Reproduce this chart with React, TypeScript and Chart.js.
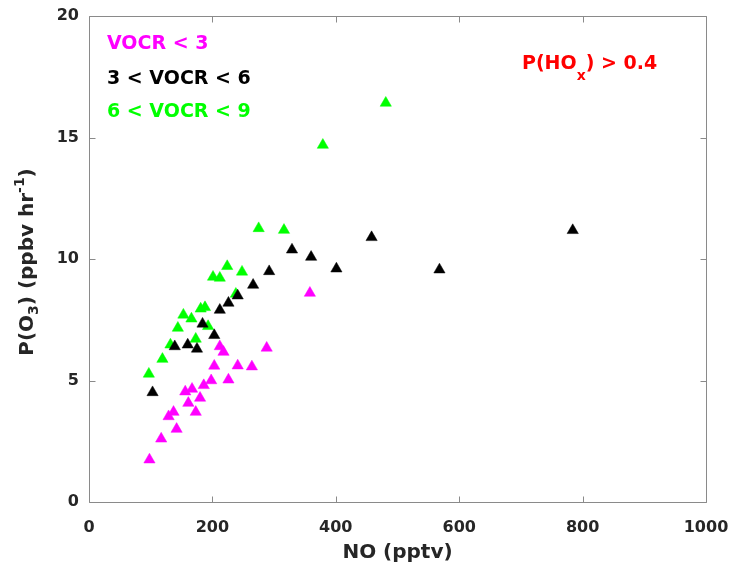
import React, { useEffect, useRef } from 'react';
import { Chart, registerables } from 'chart.js';

Chart.register(...registerables);

// VOCR < 3 (magenta)
const noLow = [98, 117, 142, 129, 137, 173, 161, 180, 156, 167, 186, 198, 226, 203, 241, 264, 212, 218, 288, 358];
const po3Low = [1.74, 2.6, 3.0, 3.52, 3.7, 3.7, 4.07, 4.28, 4.54, 4.65, 4.8, 5.0, 5.03, 5.6, 5.61, 5.57, 6.4, 6.17, 6.34, 8.6];

// 3 < VOCR < 6 (black)
const noMid = [103, 139, 160, 175, 203, 184, 212, 226, 241, 266, 292, 329, 360, 401, 458, 568, 784];
const po3Mid = [4.51, 6.4, 6.47, 6.3, 6.86, 7.33, 7.9, 8.19, 8.49, 8.93, 9.49, 10.38, 10.08, 9.6, 10.89, 9.56, 11.18];

// 6 < VOCR < 9 (green)
const noHigh = [97, 119, 132, 173, 144, 153, 166, 181, 188, 193, 238, 201, 212, 224, 248, 275, 316, 379, 481];
const po3High = [5.27, 5.88, 6.47, 6.71, 7.16, 7.7, 7.54, 7.95, 8.01, 7.23, 8.56, 9.26, 9.22, 9.7, 9.47, 11.26, 11.19, 14.69, 16.42];

const xTicks = [0, 200, 400, 600, 800, 1000];
const yTicks = [0, 5, 10, 15, 20];

const seriesLabels = ['VOCR < 3', '3 < VOCR < 6', '6 < VOCR < 9'];
const seriesColors = ['#ff00ff', '#000000', '#00ff00'];

const FONT = 'DejaVu Sans';
const TEXT_DARK = '#262626';

type Part = { t: string; size: number; dy: number };

function drawRich(ctx: CanvasRenderingContext2D, parts: Part[], x: number, y: number, align: 'left' | 'center') {
  let total = 0;
  const widths = parts.map((p) => {
    ctx.font = `bold ${p.size}px "${FONT}"`;
    const w = ctx.measureText(p.t).width;
    total += w;
    return w;
  });
  let cx = align === 'center' ? x - total / 2 : x;
  ctx.textAlign = 'left';
  ctx.textBaseline = 'alphabetic';
  parts.forEach((p, i) => {
    ctx.font = `bold ${p.size}px "${FONT}"`;
    ctx.fillText(p.t, cx, y + p.dy);
    cx += widths[i];
  });
}

const decorPlugin = {
  id: 'decor',
  afterDraw(chart: any) {
    const { ctx, chartArea, scales } = chart;
    const { left, right, top, bottom } = chartArea;
    ctx.save();
    // box
    ctx.strokeStyle = '#8a8a8a';
    ctx.lineWidth = 1;
    const L = Math.round(left) + 0.5;
    const R = Math.round(right) + 0.5;
    const T = Math.round(top) + 0.5;
    const B = Math.round(bottom) + 0.5;
    ctx.beginPath();
    ctx.rect(L, T, R - L, B - T);
    ctx.stroke();
    // inward ticks
    const tl = 6;
    ctx.beginPath();
    xTicks.forEach((v) => {
      const px = Math.round(scales.x.getPixelForValue(v)) + 0.5;
      ctx.moveTo(px, B);
      ctx.lineTo(px, B - tl);
      ctx.moveTo(px, T);
      ctx.lineTo(px, T + tl);
    });
    yTicks.forEach((v) => {
      const py = Math.round(scales.y.getPixelForValue(v)) + 0.5;
      ctx.moveTo(L, py);
      ctx.lineTo(L + tl, py);
      ctx.moveTo(R, py);
      ctx.lineTo(R - tl, py);
    });
    ctx.stroke();

    // series labels
    const baselines = [49, 84, 117];
    seriesLabels.forEach((s, i) => {
      ctx.fillStyle = seriesColors[i];
      drawRich(ctx, [{ t: s, size: 19, dy: 0 }], 107, baselines[i], 'left');
    });

    // P(HOx) > 0.4
    ctx.fillStyle = '#ff0000';
    drawRich(
      ctx,
      [
        { t: 'P(HO', size: 19, dy: 0 },
        { t: 'x', size: 14, dy: 11 },
        { t: ') > 0.4', size: 19, dy: 0 },
      ],
      522,
      69,
      'left'
    );

    // y title
    ctx.save();
    ctx.translate(33, 262);
    ctx.rotate(-Math.PI / 2);
    ctx.fillStyle = TEXT_DARK;
    drawRich(
      ctx,
      [
        { t: 'P(O', size: 20, dy: 0 },
        { t: '3', size: 14, dy: 5 },
        { t: ') (ppbv hr', size: 20, dy: 0 },
        { t: '-1', size: 14, dy: -9 },
        { t: ')', size: 20, dy: 0 },
      ],
      0,
      0,
      'center'
    );
    ctx.restore();
    ctx.restore();
  },
};

export default function App() {
  const ref = useRef<HTMLCanvasElement | null>(null);
  useEffect(() => {
    document.body.style.margin = '0';
    const canvas = ref.current;
    if (!canvas) return;
    const mk = (xs: number[], ys: number[], color: string, label: string) => ({
      label,
      data: xs.map((x, i) => ({ x, y: ys[i] })),
      pointStyle: 'triangle',
      pointRadius: 6.5,
      pointHoverRadius: 6.5,
      backgroundColor: color,
      borderColor: color,
      borderWidth: 0.5,
    });
    const chart = new Chart(canvas, {
      type: 'scatter',
      data: {
        datasets: [
          mk(noLow, po3Low, seriesColors[0], seriesLabels[0]),
          mk(noMid, po3Mid, seriesColors[1], seriesLabels[1]),
          mk(noHigh, po3High, seriesColors[2], seriesLabels[2]),
        ] as any,
      },
      options: {
        responsive: false,
        animation: false,
        layout: { padding: { left: 0, right: 26, top: 16, bottom: 0 } },
        plugins: { legend: { display: false }, tooltip: { enabled: false } },
        scales: {
          x: {
            type: 'linear',
            min: 0,
            max: 1000,
            afterBuildTicks: (s: any) => {
              s.ticks = xTicks.map((v) => ({ value: v }));
            },
            ticks: {
              font: { family: FONT, size: 16, weight: 'bold' },
              color: TEXT_DARK,
              padding: 16,
              maxRotation: 0,
              callback: (v: any) => String(v),
            },
            grid: { display: false, drawTicks: false },
            border: { display: false },
            title: {
              display: true,
              text: 'NO (pptv)',
              font: { family: FONT, size: 20, weight: 'bold' },
              color: TEXT_DARK,
              padding: { top: 0, bottom: 6 },
            },
            afterFit: (s: any) => {
              s.height = 69;
              s.paddingRight = 0;
              s.paddingLeft = 0;
            },
          },
          y: {
            type: 'linear',
            min: 0,
            max: 20,
            afterBuildTicks: (s: any) => {
              s.ticks = yTicks.map((v) => ({ value: v }));
            },
            ticks: {
              font: { family: FONT, size: 16, weight: 'bold' },
              color: TEXT_DARK,
              padding: 10,
              callback: (v: any) => String(v),
            },
            grid: { display: false, drawTicks: false },
            border: { display: false },
            afterFit: (s: any) => {
              s.width = 89;
              s.paddingTop = 0;
              s.paddingBottom = 0;
            },
          },
        },
      } as any,
      plugins: [decorPlugin],
    });
    return () => chart.destroy();
  }, []);
  return (
    <div style={{ width: 732, height: 571 }}>
      <canvas ref={ref} width={732} height={571} style={{ display: 'block' }} />
    </div>
  );
}
